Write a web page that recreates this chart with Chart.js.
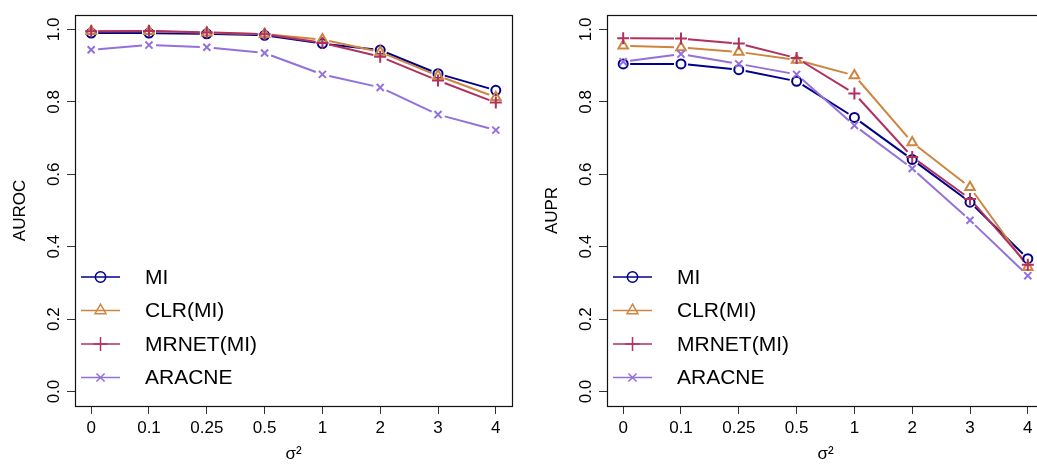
<!DOCTYPE html>
<html>
<head>
<meta charset="utf-8">
<script src="https://cdn.jsdelivr.net/npm/chart.js@4.4.1/dist/chart.umd.min.js"></script>
<style>
  html, body { margin: 0; padding: 0; background: #fff; overflow: hidden; width: 1037px; height: 467px; }
  .panel { position: absolute; top: 0; width: 520px; height: 467px; }
</style>
</head>
<body>
<div class="panel" style="left:0"><canvas id="aurocChart" width="520" height="467"></canvas></div>
<div class="panel" style="left:532px"><canvas id="auprChart" width="520" height="467"></canvas></div>
<script>
// x categories (noise variance) and y tick values
const sigmaLabels = ['0', '0.1', '0.25', '0.5', '1', '2', '3', '4'];
const yTickValues = [0, 0.2, 0.4, 0.6, 0.8, 1.0];
const methodNames = ['MI', 'CLR(MI)', 'MRNET(MI)', 'ARACNE'];

// left panel: AUROC
const aurocMI     = [0.990, 0.990, 0.988, 0.984, 0.961, 0.943, 0.878, 0.832];
const aurocCLR    = [0.995, 0.995, 0.991, 0.987, 0.972, 0.938, 0.872, 0.813];
const aurocMRNET  = [0.995, 0.996, 0.992, 0.987, 0.963, 0.925, 0.859, 0.798];
const aurocARACNE = [0.944, 0.957, 0.951, 0.935, 0.876, 0.840, 0.765, 0.722];

// right panel: AUPR
const auprMI     = [0.905, 0.905, 0.889, 0.857, 0.757, 0.641, 0.523, 0.367];
const auprCLR    = [0.955, 0.950, 0.938, 0.916, 0.873, 0.688, 0.564, 0.343];
const auprMRNET  = [0.976, 0.975, 0.961, 0.921, 0.823, 0.648, 0.532, 0.350];
const auprARACNE = [0.911, 0.932, 0.905, 0.876, 0.735, 0.616, 0.473, 0.320];

const SERIES_STYLE = [
    { color: '#00008B', pointStyle: 'circle',   radius: 4.5 },
    { color: '#CD853F', pointStyle: 'triangle', radius: 5.5 },
    { color: '#B03060', pointStyle: 'cross',    radius: 6 },
    { color: '#9370DB', pointStyle: 'crossRot', radius: 5 }
];

Chart.defaults.font.family = '"Liberation Sans", Arial, sans-serif';
Chart.defaults.color = '#000';

// R's type="b": line segments stop short of the markers
const gappedLinePlugin = {
    id: 'gapped_lines',
    beforeDatasetsDraw: function (chart, args, options) {
        const ctx = chart.ctx;
        const gap = options.gap || 6;
        ctx.save();
        chart.data.datasets.forEach(function (ds, i) {
            const pts = chart.getDatasetMeta(i).data;
            ctx.strokeStyle = ds.borderColor;
            ctx.lineWidth = 2;
            for (let k = 0; k < pts.length - 1; k++) {
                const a = pts[k], b = pts[k + 1];
                const dx = b.x - a.x, dy = b.y - a.y;
                const len = Math.hypot(dx, dy);
                if (len <= 2 * gap) continue;
                const ux = dx / len, uy = dy / len;
                ctx.beginPath();
                ctx.moveTo(a.x + ux * gap, a.y + uy * gap);
                ctx.lineTo(b.x - ux * gap, b.y - uy * gap);
                ctx.stroke();
            }
        });
        ctx.restore();
    }
};

// box around the plot region + legend in the bottom-left corner
const boxLegendPlugin = {
    id: 'box_legend',
    afterDraw: function (chart, args, options) {
        const ctx = chart.ctx;
        const area = chart.chartArea;
        ctx.save();
        ctx.strokeStyle = '#111';
        ctx.lineWidth = 1.2;
        ctx.strokeRect(Math.round(area.left) + 0.5, Math.round(area.top) + 0.5,
                       Math.round(area.right - area.left), Math.round(area.bottom - area.top));

        ctx.font = '21px "Liberation Sans", Arial, sans-serif';
        ctx.textBaseline = 'middle';
        ctx.textAlign = 'left';
        chart.data.datasets.forEach(function (ds, i) {
            const y = area.bottom - 129 + i * 33.5;
            const x0 = area.left + 6;
            ctx.strokeStyle = ds.borderColor;
            ctx.lineWidth = 1.5;
            ctx.beginPath();
            ctx.moveTo(x0, y);
            ctx.lineTo(x0 + 39, y);
            ctx.stroke();
            ctx.fillStyle = 'rgba(0,0,0,0)';
            Chart.helpers.drawPoint(ctx, {
                pointStyle: ds.pointStyle,
                radius: ds.pointRadius * 1.15,
                rotation: 0,
                borderWidth: 1.5
            }, x0 + 19.5, y);
            ctx.fillStyle = '#000';
            ctx.fillText(ds.label, area.left + 70, y + 1);
        });
        ctx.restore();
    }
};

function makeDatasets(seriesList) {
    return seriesList.map(function (values, i) {
        const st = SERIES_STYLE[i];
        return {
            label: methodNames[i],
            data: values.map(function (v, k) { return { x: k, y: v }; }),
            showLine: false,
            borderColor: st.color,
            backgroundColor: 'rgba(0,0,0,0)',
            pointStyle: st.pointStyle,
            pointRadius: st.radius,
            pointBorderWidth: 2,
            pointBorderColor: st.color,
            pointBackgroundColor: 'rgba(0,0,0,0)',
            order: seriesList.length - i
        };
    });
}

function makeChart(canvasId, yTitle, seriesList) {
    const ctx = document.getElementById(canvasId);
    return new Chart(ctx, {
        type: 'line',
        data: { datasets: makeDatasets(seriesList) },
        plugins: [gappedLinePlugin, boxLegendPlugin],
        options: {
            responsive: false,
            animation: false,
            events: [],
            layout: { padding: { top: 15, right: 7, left: 0, bottom: 0 } },
            plugins: {
                legend: { display: false },
                tooltip: { enabled: false },
                gapped_lines: { gap: 7 }
            },
            scales: {
                x: {
                    type: 'linear',
                    min: -0.28,
                    max: 7.28,
                    afterBuildTicks: function (scale) {
                        scale.ticks = sigmaLabels.map(function (_, i) { return { value: i }; });
                    },
                    afterFit: function (scale) { scale.height = 61; },
                    border: { display: false },
                    grid: { drawOnChartArea: false, drawTicks: true, tickLength: 8, color: '#333', lineWidth: 1 },
                    ticks: {
                        autoSkip: false,
                        maxRotation: 0,
                        padding: 4,
                        font: { size: 17 },
                        callback: function (v) { return sigmaLabels[v]; }
                    },
                    title: { display: true, text: 'σ²', font: { size: 17 }, padding: { top: 0, bottom: 2 } }
                },
                y: {
                    type: 'linear',
                    min: -0.04,
                    max: 1.04,
                    afterBuildTicks: function (scale) {
                        scale.ticks = yTickValues.map(function (v) { return { value: v }; });
                    },
                    afterFit: function (scale) { scale.width = 75; },
                    border: { display: false },
                    grid: { drawOnChartArea: false, drawTicks: true, tickLength: 8, color: '#333', lineWidth: 1 },
                    ticks: {
                        minRotation: 90,
                        maxRotation: 90,
                        crossAlign: 'center',
                        padding: 1,
                        font: { size: 17 },
                        callback: function (v) { return Number(v).toFixed(1); }
                    },
                    title: { display: true, text: yTitle, font: { size: 17 }, padding: { top: 10, bottom: 0 } }
                }
            }
        }
    });
}

makeChart('aurocChart', 'AUROC', [aurocMI, aurocCLR, aurocMRNET, aurocARACNE]);
makeChart('auprChart', 'AUPR', [auprMI, auprCLR, auprMRNET, auprARACNE]);
</script>
</body>
</html>
